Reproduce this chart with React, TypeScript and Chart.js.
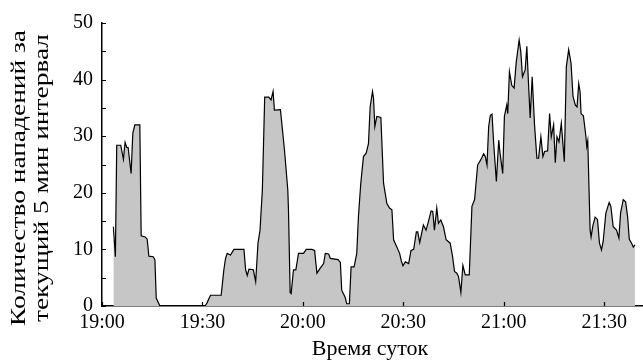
import React, { useEffect, useRef } from "react";
import { Chart, registerables } from "chart.js";

Chart.register(...registerables);

// Minutes after 19:00
const timeMinutes: number[] = [
  3.4, 4.0, 4.4, 5.6, 6.4, 6.9, 7.4, 7.8, 8.7, 9.2, 9.8, 11.3, 11.7, 12.9, 13.5, 14.0, 15.3, 15.8, 16.2, 17.3,
  30.8, 31.4, 32.4, 35.6, 36.4, 36.9, 37.4, 38.4, 39.4, 42.4, 42.9, 43.4, 43.9, 45.2, 45.9, 46.6, 47.2, 47.9,
  48.6, 49.8, 50.5, 51.1, 51.5, 53.3, 54.5, 55.5, 55.7, 56.2, 56.5, 57.2, 57.9, 58.7, 60.2, 61.0, 62.7, 63.5,
  64.2, 65.2, 66.2, 66.7, 67.7, 68.2, 70.5, 71.2, 71.6, 72.6, 73.1, 73.9, 74.4, 75.3, 76.1, 76.6, 77.3, 78.1,
  78.9, 79.6, 80.1, 80.8, 81.1, 81.5, 82.1, 83.3, 84.1, 85.1, 85.9, 86.6, 87.1, 88.1, 88.9, 89.4, 89.9, 90.6,
  91.6, 92.3, 93.1, 93.9, 94.3, 94.9, 96.0, 96.8, 97.5, 98.3, 98.8, 99.3, 100.0, 100.5, 101.2, 102.0, 102.8,
  104.0, 104.7, 105.3, 106.0, 106.5, 107.2, 107.8, 108.5, 109.7, 110.5, 111.3, 112.2, 113.2, 114.0, 114.5,
  115.0, 115.5, 116.0, 116.5, 117.0, 117.8, 118.5, 118.9, 119.7, 120.2, 120.9, 121.2, 121.7, 122.4, 123.1,
  123.7, 124.6, 125.1, 125.6, 126.4, 126.9, 127.4, 127.9, 128.5, 129.2, 129.9, 130.4, 131.1, 131.7, 132.2,
  133.1, 133.7, 134.2, 134.9, 135.4, 135.9, 136.5, 137.2, 138.1, 138.7, 139.4, 140.1, 140.7, 141.4, 141.9,
  142.4, 142.8, 143.1, 143.8, 144.5, 144.8, 145.1, 145.8, 146.1, 146.6, 147.3, 148.0, 148.6, 149.2, 149.7,
  150.5, 151.5, 152.0, 152.7, 153.7, 154.4, 154.9, 155.7, 156.4, 157.0, 157.5, 158.2, 158.7, 159.2,
];

const attackCounts: number[] = [
  14, 8.7, 28.4, 28.4, 25.9, 28.9, 28.0, 28.0, 23.4, 30.5, 32.0, 32.0, 12.4, 12.2, 11.8, 8.8, 8.7, 8.2, 1.4, 0,
  0, 0.6, 1.9, 1.9, 6.4, 8.4, 9.3, 9.0, 10, 10, 6.4, 5.4, 6.5, 6.4, 4.3, 11.1, 13.4, 20.5,
  36.9, 36.9, 36.4, 37.9, 34.6, 34.7, 27.6, 20.5, 17, 2.4, 2.2, 6.4, 6.4, 9.3, 9.3, 10, 10, 9.8,
  5.8, 6.7, 7.5, 9.3, 9.2, 8.4, 8.2, 7.7, 2.8, 1.6, 0.4, 0.4, 6.9, 6.9, 9.3, 15.8, 21.7, 26.4,
  27, 28.7, 35.2, 37.9, 36.7, 31.7, 33.5, 33.3, 21.7, 18.1, 17.3, 17, 11.7, 10.4, 9.3, 8.0, 7.1, 7.8,
  7.5, 9.8, 10, 13.1, 13.1, 11.2, 14.3, 13.4, 14.9, 16.8, 16.7, 13.4, 17.3, 14.6, 15.2, 14.0, 11.7,
  11.1, 8.8, 6.1, 5.8, 5.2, 2.4, 7.2, 5.5, 5.5, 17.6, 18.8, 24.9, 25.9, 26.9, 26.4,
  24.9, 31.7, 33.7, 33.9, 28.7, 22, 29.3, 27, 23.4, 33.5, 35.5, 34.0, 41.4, 39.0, 38.5,
  42.9, 47.0, 44.9, 40.5, 41.7, 45.9, 39.3, 33.2, 40.5, 32, 26.1, 26.1, 29.9, 26.4, 27.3,
  27.4, 34.0, 29.9, 32.0, 25.3, 29.9, 29.0, 32.3, 25.5, 42.3, 45.3, 42.9, 37.0, 35.5, 35.2,
  39.3, 37.9, 34.0, 33.6, 30.2, 28.2, 29.2, 13.4, 12.2, 14.1, 15.7, 15.3, 11.1, 9.9, 11.4,
  16.4, 18.3, 17.6, 14.0, 13.4, 12.0, 16.4, 18.8, 18.4, 15.8, 11.8, 11.1, 10.4, 10.8,
];

const xTickMinutes: number[] = [0, 30, 60, 90, 120, 150];
const xTickLabels: string[] = ["19:00", "19:30", "20:00", "20:30", "21:00", "21:30"];
const yMinorTicks: number[] = [0, 5, 10, 15, 20, 25, 30, 35, 40, 45, 50];
const yTitleLines: string[] = ["Количество нападений за", "текущий 5 мин интервал"];
const xTitle = "Время суток";

const FONT = '"Liberation Serif", serif';

const axisDecor = {
  id: "axisDecor",
  afterDraw(chart: any) {
    const { ctx, chartArea, scales } = chart;
    const xs = scales.x;
    const ys = scales.y;
    ctx.save();
    ctx.strokeStyle = "#000";
    ctx.lineWidth = 1.2;
    ctx.beginPath();
    for (const v of yMinorTicks) {
      const py = Math.round(ys.getPixelForValue(v)) + 0.5;
      ctx.moveTo(chartArea.left, py);
      ctx.lineTo(chartArea.left + 4, py);
    }
    for (const v of xTickMinutes) {
      const px = Math.round(xs.getPixelForValue(v)) + 0.5;
      ctx.moveTo(px, chartArea.bottom);
      ctx.lineTo(px, chartArea.bottom - 4);
    }
    ctx.stroke();

    ctx.fillStyle = "#000";
    // y title (two rotated lines, stretched along their length)
    ctx.font = `20px ${FONT}`;
    const w0 = ctx.measureText(yTitleLines[0]).width;
    const stretch = 296 / w0;
    const lineX = [20, 43];
    yTitleLines.forEach((t, i) => {
      ctx.save();
      ctx.translate(lineX[i], 178);
      ctx.rotate(-Math.PI / 2);
      ctx.scale(stretch, 1);
      ctx.textAlign = "center";
      ctx.textBaseline = "middle";
      ctx.fillText(t, 0, 0);
      ctx.restore();
    });

    // x title
    ctx.font = `22px ${FONT}`;
    ctx.textAlign = "center";
    ctx.textBaseline = "middle";
    ctx.fillText(xTitle, 370, 349);
    ctx.restore();
  },
};

export default function App() {
  const canvasRef = useRef<HTMLCanvasElement | null>(null);

  useEffect(() => {
    let chart: any = null;
    let cancelled = false;
    const build = () => {
      if (cancelled || !canvasRef.current) return;
      const points = timeMinutes.map((t, i) => ({ x: t, y: attackCounts[i] }));
      chart = new Chart(canvasRef.current, {
        type: "line",
        data: {
          datasets: [
            {
              data: points,
              borderColor: "#000",
              borderWidth: 1.2,
              backgroundColor: "#c6c6c6",
              fill: "origin",
              pointRadius: 0,
              tension: 0,
            },
          ],
        },
        options: {
          animation: false,
          responsive: true,
          maintainAspectRatio: false,
          layout: { padding: { top: 23, right: 0, left: 0, bottom: 0 } },
          plugins: { legend: { display: false }, tooltip: { enabled: false } },
          scales: {
            x: {
              type: "linear",
              min: 0,
              max: 161.6,
              grid: { display: false, drawTicks: false, tickLength: 0 },
              border: { display: true, color: "#000", width: 1.5 },
              afterBuildTicks: (scale: any) => {
                scale.ticks = xTickMinutes.map((v) => ({ value: v }));
              },
              afterFit: (scale: any) => {
                scale.height = 55;
                scale.paddingLeft = 0;
                scale.paddingRight = 0;
              },
              ticks: {
                padding: 5,
                maxRotation: 0,
                autoSkip: false,
                color: "#000",
                font: { family: FONT, size: 20 },
                callback: (v: any) => {
                  const idx = xTickMinutes.indexOf(Number(v));
                  return idx >= 0 ? xTickLabels[idx] : "";
                },
              },
            },
            y: {
              min: 0,
              max: 50,
              grid: { display: false, drawTicks: false, tickLength: 0 },
              border: { display: true, color: "#000", width: 1.5 },
              afterFit: (scale: any) => {
                scale.width = 102;
              },
              ticks: {
                stepSize: 10,
                padding: 9,
                color: "#000",
                font: { family: FONT, size: 20 },
              },
            },
          },
        },
        plugins: [axisDecor],
      });
    };
    const fontsApi: any = (document as any).fonts;
    if (fontsApi && fontsApi.load) {
      Promise.all([
        fontsApi.load('20px "Liberation Serif"', "Количество 0123456789:"),
      ])
        .catch(() => null)
        .then(build);
    } else {
      build();
    }
    return () => {
      cancelled = true;
      if (chart) chart.destroy();
    };
  }, []);

  return (
    <div style={{ position: "fixed", left: 0, top: 0, width: 643, height: 361, background: "#fff" }}>
      <canvas ref={canvasRef} />
    </div>
  );
}
